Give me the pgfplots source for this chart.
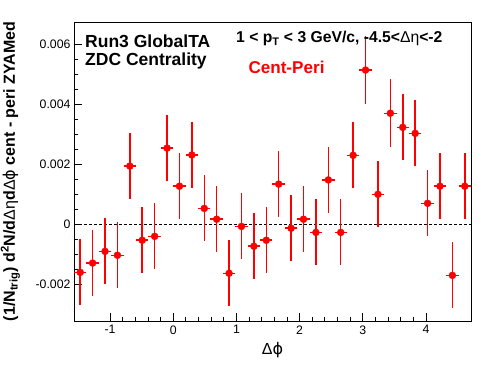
\documentclass[border=0pt]{standalone}
\usepackage{fontspec}
\setmainfont{Liberation Sans}
\newfontfamily\symf{DejaVu Sans}
\usepackage{pgfplots}
\usepackage{pgfplotstable}
\pgfplotsset{compat=1.18}
\definecolor{rootred}{RGB}{255,0,0}
\pgfplotstableread{
x y ex ey
-1.4726 -0.00160 0.0982 0.0011
-1.2763 -0.00129 0.0982 0.0011
-1.0799 -0.00090 0.0982 0.0011
-0.8836 -0.00103 0.0982 0.0011
-0.6872 0.00194 0.0982 0.0011
-0.4909 -0.00053 0.0982 0.0011
-0.2945 -0.00040 0.0982 0.0011
-0.0982 0.00254 0.0982 0.0011
0.0982 0.00127 0.0982 0.0011
0.2945 0.00231 0.0982 0.0011
0.4909 0.00053 0.0982 0.0011
0.6872 0.00017 0.0982 0.0011
0.8836 -0.00163 0.0982 0.0011
1.0799 -0.00007 0.0982 0.0011
1.2763 -0.00073 0.0982 0.0011
1.4726 -0.00053 0.0982 0.0011
1.6690 0.00134 0.0982 0.0011
1.8653 -0.00013 0.0982 0.0011
2.0617 0.00017 0.0982 0.0011
2.2580 -0.00027 0.0982 0.0011
2.4544 0.00148 0.0982 0.0011
2.6507 -0.00027 0.0982 0.0011
2.8471 0.00230 0.0982 0.0011
3.0434 0.00514 0.0982 0.00113
3.2398 0.00100 0.0982 0.0011
3.4361 0.00370 0.0982 0.00113
3.6325 0.00323 0.0982 0.0011
3.8288 0.00303 0.0982 0.0011
4.0252 0.00070 0.0982 0.0011
4.2215 0.00127 0.0982 0.0011
4.4179 -0.00170 0.0982 0.0011
4.6142 0.00127 0.0982 0.0011
}\datatable
\begin{document}
\begin{tikzpicture}
\useasboundingbox (-74pt,-53pt) rectangle (422pt,321pt);
\begin{axis}[
  scale only axis,
  width=397pt, height=299pt,
  xmin=-1.5708, xmax=4.7124,
  ymin=-0.00322, ymax=0.00674,
  axis line style={line width=0.9pt},
  tick pos=left, tick align=inside,
  major tick length=8pt, minor tick length=4pt,
  every tick/.style={black, line width=0.8pt},
  xtick={-1,0,1,2,3,4},
  xticklabels={-1,0,1,2,3,4},
  minor x tick num=4,
  ytick={-0.002,0,0.002,0.004,0.006},
  yticklabels={-0.002,0,0.002,0.004,0.006},
  minor y tick num=3,
  scaled y ticks=false,
  ticklabel style={font=\fontsize{12.3}{14}\selectfont},
  /pgf/number format/assume math mode=true,
  xticklabel style={yshift=-1pt},
  xlabel={\fontsize{16}{18}\selectfont\textmd{Δ}{\symf ϕ}},
  xlabel style={at={(axis description cs:0.5,0)}, anchor=base, yshift=-34pt},
  ylabel={\bfseries\fontsize{16}{18}\selectfont (1/N\textsubscript{trig}) d\textsuperscript{2}N/d\textmd{Δη}d\textmd{Δ{\symf ϕ}} cent - peri ZYAMed},
  ylabel style={at={([xshift=-59pt]axis description cs:0,0.5)}, anchor=base, rotate=0},
]
\addplot[black, dashed, line width=0.8pt, dash pattern=on 3pt off 2pt] coordinates {(-1.5708,0) (4.7124,0)};
\addplot[only marks, mark=*, color=rootred, mark size=3.5pt, mark options={fill=rootred, draw=rootred},
  error bars/.cd, x dir=both, x explicit, y dir=both, y explicit, error mark=none,
  error bar style={draw=rootred, color=rootred, line width=1.5pt, solid}]
  table[x=x, y=y, x error=ex, y error=ey] {\datatable};
\end{axis}
\node[anchor=base west, font=\bfseries\fontsize{17.5}{20}\selectfont, inner sep=0] at (11pt,273.3pt) {Run3 GlobalTA};
\node[anchor=base west, font=\bfseries\fontsize{17.5}{20}\selectfont, inner sep=0] at (11pt,255pt) {ZDC Centrality};
\node[anchor=base west, font=\bfseries\fontsize{15.7}{18}\selectfont, inner sep=0] at (162pt,278.5pt) {1 < p\textsubscript{T} < 3 GeV/c, -4.5<\textmd{Δη}<-2};
\node[anchor=base west, font=\bfseries\fontsize{17.1}{20}\selectfont, inner sep=0, text=rootred] at (174.3pt,247pt) {Cent-Peri};
\end{tikzpicture}
\end{document}
